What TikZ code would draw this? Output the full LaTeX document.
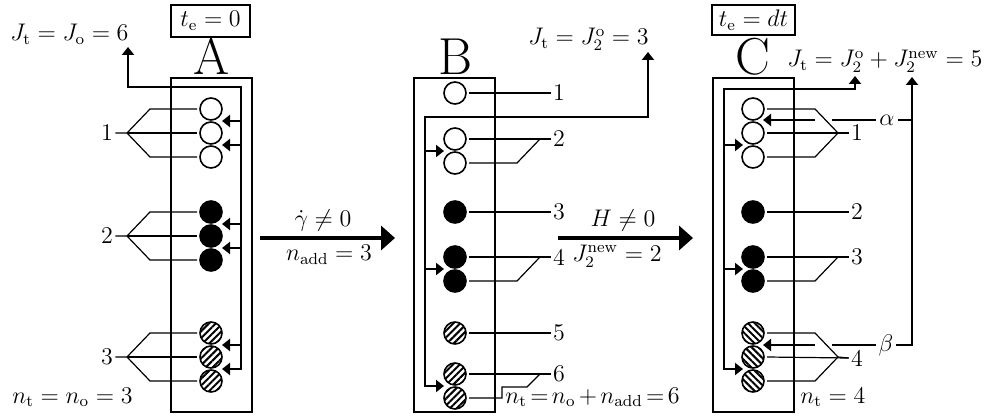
\documentclass[tikz,border=0pt]{standalone}
\usetikzlibrary{arrows.meta,patterns.meta}
\begin{document}
\begin{tikzpicture}[x=0.5pt,y=-0.5pt,
  font=\fontsize{12}{14.4}\selectfont,
  line join=miter,
  frame/.style={draw, line width=1pt, inner sep=0pt},
  panel/.style={frame, minimum width=40.5pt, minimum height=167pt},
  loopline/.style={line width=1pt},
  arrowed/.style={-{Triangle[length=4pt,width=6pt]}},
  bothtips/.style={{Triangle[length=4pt,width=6pt]}-{Triangle[length=4pt,width=6pt]}},
  lbl/.style={line width=0.6pt},
  bead/.style={circle, draw, line width=0.8pt, minimum size=11pt, inner sep=0pt, outer sep=1.5pt},
  openbead/.style={bead, fill=white},
  fullbead/.style={bead, fill=black},
  hatchbead/.style={bead, pattern={Lines[angle=45,distance=2.4pt,line width=1pt]}},
  hatchbeadC/.style={bead, pattern={Lines[angle=-45,distance=2.4pt,line width=1pt]}},
  bigletter/.style={font=\fontsize{26}{31}\selectfont, inner sep=0pt, anchor=base},
  num/.style={inner sep=1pt},
  eq/.style={anchor=base west, inner sep=0pt},
  flow/.style={line width=2.2pt, -{Triangle[length=7pt,width=12pt]}},
]
\useasboundingbox (0,0) rectangle (1005,417);

% ---------------- state A ----------------
\node[panel] (boxA) at (211.5,245) {};
\node[bigletter] (letA) at (211.5,75) {A};
\node[frame, minimum width=39.5pt, minimum height=16pt] (teA) at (210.5,21) {$t_\mathrm{e}=0$};

\node[openbead] (a1) at (211,109) {};
\node[openbead] (a2) at (211,133) {};
\node[openbead] (a3) at (211,157) {};
\node[fullbead] (a4) at (211,212) {};
\node[fullbead] (a5) at (211,236) {};
\node[fullbead] (a6) at (211,260) {};
\node[hatchbead] (a7) at (211,333) {};
\node[hatchbead] (a8) at (211,357) {};
\node[hatchbead] (a9) at (211,381) {};

\node[num] (na1) at (107,133) {1};
\node[num] (na2) at (107,236) {2};
\node[num] (na3) at (107,357) {3};

\draw[lbl] (na1.east) -- (127,133) coordinate (fa1) -- (150,109) -- (a1.west);
\draw[lbl] (fa1) -- (a2.west);
\draw[lbl] (fa1) -- (150,157) -- (a3.west);
\draw[lbl] (na2.east) -- (127,236) coordinate (fa2) -- (150,212) -- (a4.west);
\draw[lbl] (fa2) -- (a5.west);
\draw[lbl] (fa2) -- (150,260) -- (a6.west);
\draw[lbl] (na3.east) -- (127,357) coordinate (fa3) -- (150,333) -- (a7.west);
\draw[lbl] (fa3) -- (a8.west);
\draw[lbl] (fa3) -- (150,381) -- (a9.west);

\node[eq] (JA) at (10,41) {$J_\mathrm{t}=J_\mathrm{o}=6$};
\node[eq] (nA) at (12,403) {$n_\mathrm{t}=n_\mathrm{o}=3$};

\draw[loopline, bothtips] (222,369) -- (241,369) -- (241,87) -- (128,87) -- (128,47);
\foreach \y in {121,145,224,248,345}
  \draw[loopline, arrowed] (241,\y) -- (222,\y);

% ---------------- transition A -> B ----------------
\draw[flow] (260,238) -- (395,238);
\node (gam) at (323,220) {$\dot\gamma\neq0$};
\node (nadd) at (329,255) {$n_\mathrm{add}=3$};

% ---------------- state B ----------------
\node[panel] (boxB) at (454.5,245) {};
\node[bigletter] (letB) at (455,75) {B};

\node[openbead] (b1) at (455,93) {};
\node[openbead] (b2) at (455,139) {};
\node[openbead] (b3) at (455,163) {};
\node[fullbead] (b4) at (455,212) {};
\node[fullbead] (b5) at (455,257) {};
\node[fullbead] (b6) at (455,281) {};
\node[hatchbead] (b7) at (455,333) {};
\node[hatchbead] (b8) at (455,374) {};
\node[hatchbead] (b9) at (455,398) {};

\node[num] (nb1) at (559,93) {1};
\node[num] (nb2) at (559,139) {2};
\node[num] (nb3) at (559,212) {3};
\node[num] (nb4) at (559,257) {4};
\node[num] (nb5) at (559,333) {5};
\node[num] (nb6) at (559,374) {6};

\draw[lbl] (b1.east) -- (nb1.west);
\draw[lbl] (b2.east) -- (nb2.west);
\draw[lbl] (b3.east) -- (517,163) -- (540,139);
\draw[lbl] (b4.east) -- (nb3.west);
\draw[lbl] (b5.east) -- (nb4.west);
\draw[lbl] (b6.east) -- (517,281) -- (540,257);
\draw[lbl] (b7.east) -- (nb5.west);
\draw[lbl] (b8.east) -- (nb6.west);
\draw[lbl] (b9.east) -- (502,398) -- (502,387) -- (527,387) -- (540,374);

\node[eq] (JB) at (528,45) {$J_\mathrm{t}=J_2^\mathrm{o}=3$};
\node[eq] (nB) at (505,403)
  {$\thickmuskip=2.5mu\medmuskip=2.5mu n_\mathrm{t}=n_\mathrm{o}+n_\mathrm{add}=6$};

\draw[loopline, bothtips] (444,386) -- (425,386) -- (425,117) -- (648,117) -- (648,52);
\foreach \y in {151,269}
  \draw[loopline, arrowed] (425,\y) -- (444,\y);

% ---------------- transition B -> C ----------------
\draw[flow] (558,238) -- (693,238);
\node (hfield) at (623,220) {$H\neq0$};
\node (jnew) at (617,256) {$J_2^\mathrm{new}=2$};

% ---------------- state C ----------------
\node[panel] (boxC) at (753.5,245) {};
\node[bigletter] (letC) at (753,75) {C};
\node[frame, minimum width=41.5pt, minimum height=15pt] (teC) at (753.5,20) {$t_\mathrm{e}=dt$};

\node[openbead] (c1) at (753,109) {};
\node[openbead] (c2) at (753,133) {};
\node[openbead] (c3) at (753,157) {};
\node[fullbead] (c4) at (753,212) {};
\node[fullbead] (c5) at (753,257) {};
\node[fullbead] (c6) at (753,281) {};
\node[hatchbeadC] (c7) at (753,333) {};
\node[hatchbeadC] (c8) at (753,357) {};
\node[hatchbeadC] (c9) at (753,381) {};

\node[num] (nc1) at (857,133) {1};
\node[num] (nc2) at (857,212) {2};
\node[num] (nc3) at (857,257) {3};
\node[num] (nc4) at (857,358) {4};

\draw[lbl] (c1.east) -- (815,109) -- (838,133) -- (nc1.west);
\draw[lbl] (c2.east) -- (nc1.west);
\draw[lbl] (c3.east) -- (815,157) -- (838,133);
\draw[lbl] (c4.east) -- (nc2.west);
\draw[lbl] (c5.east) -- (nc3.west);
\draw[lbl] (c6.east) -- (815,281) -- (838,257);
\draw[lbl] (c7.east) -- (815,333) -- (838,357) -- (nc4.west);
\draw[lbl] (c8.east) -- (nc4.west);
\draw[lbl] (c9.east) -- (815,381) -- (838,357);

\node[eq] (JC) at (787,67) {$J_\mathrm{t}=J_2^\mathrm{o}+J_2^\mathrm{new}=5$};
\node[eq] (nC) at (800,403) {$n_\mathrm{t}=4$};

\draw[loopline, bothtips] (743,369) -- (724,369) -- (724,89) -- (855,89) -- (855,76);
\foreach \y in {145,269}
  \draw[loopline, arrowed] (724,\y) -- (743,\y);

% feedback branches alpha and beta
\draw[loopline, arrowed] (832,345) -- (912,345) -- (912,77);
\draw[loopline, arrowed] (815,345) -- (763,345);
\draw[loopline] (912,120) -- (832,120);
\draw[loopline, arrowed] (815,120) -- (763,120);
\node[fill=white, inner sep=1.5pt] (alpha) at (887,120) {$\alpha$};
\node[fill=white, inner sep=1.5pt] (beta) at (886,345) {$\beta$};
\end{tikzpicture}
\end{document}
